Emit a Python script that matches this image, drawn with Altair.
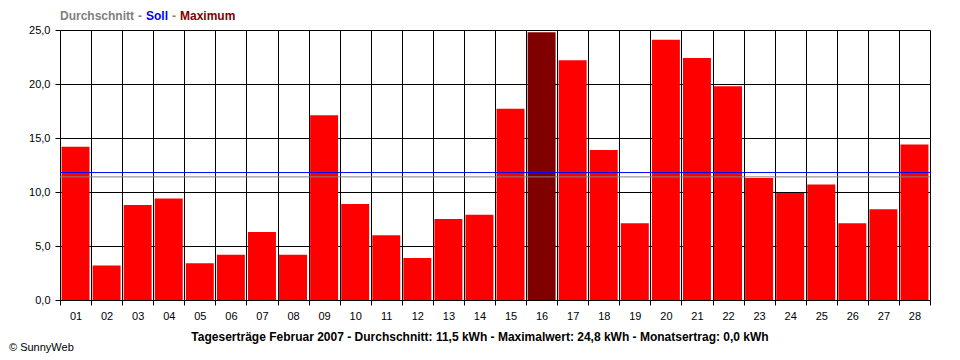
import altair as alt
import pandas as pd

# --- data -------------------------------------------------------------------
tage = [f"{i:02d}" for i in range(1, 29)]
ertrag = [14.2, 3.2, 8.8, 9.4, 3.4, 4.2, 6.3, 4.2, 17.1, 8.9,
          6.0, 3.9, 7.5, 7.9, 17.7, 24.8, 22.2, 13.9, 7.1, 24.1,
          22.4, 19.8, 11.3, 9.9, 10.7, 7.1, 8.4, 14.4]
soll = [11.8]
durchschnitt = [11.4]
y_ticks = [0, 5, 10, 15, 20, 25]
titel = ("Tageserträge Februar 2007 - Durchschnitt: 11,5 kWh - "
         "Maximalwert: 24,8 kWh - Monatsertrag: 0,0 kWh")
legende = ["Durchschnitt", "-", "Soll", "-", "Maximum"]
legende_farben = ["#808080", "#808080", "#0000ff", "#808080", "#800000"]

FONT = "Liberation Sans"

df = pd.DataFrame({"tag": list(range(1, len(tage) + 1)), "label": tage, "ertrag": ertrag})
maximum = max(ertrag)

x_values = [i / 2 for i in range(1, 2 * len(tage) + 2)]  # boundaries + centres

x_axis = alt.Axis(
    values=x_values,
    title=None,
    labelExpr="datum.value % 1 == 0 ? (datum.value < 10 ? '0' + datum.value : '' + datum.value) : ''",
    labelOverlap=False,
    labelFlush=False,
    labelFont=FONT,
    labelFontSize=11,
    labelColor="black",
    labelPadding=5,
    tickSize=5,
    tickColor="black",
    tickOpacity={"condition": {"test": "datum.value % 1 != 0", "value": 1}, "value": 0},
    grid=True,
    gridColor="black",
    gridWidth=1,
    gridOpacity={"condition": {"test": "datum.value % 1 != 0", "value": 1}, "value": 0},
    domainColor="black",
)

y_axis = alt.Axis(
    values=y_ticks,
    title=None,
    labelExpr="replace(format(datum.value, '.1f'), '.', ',')",
    labelFont=FONT,
    labelFontSize=11,
    labelColor="black",
    labelPadding=5,
    tickSize=5,
    tickColor="black",
    grid=True,
    gridColor="black",
    gridWidth=1,
    gridOpacity=1,
    domainColor="black",
)

bars = alt.Chart(df).transform_calculate(
    xa="datum.tag - 0.45", xb="datum.tag + 0.45"
).mark_rect().encode(
    x=alt.X("xa:Q", scale=alt.Scale(domain=[0.5, len(tage) + 0.5], nice=False, zero=False), axis=x_axis),
    x2="xb:Q",
    y=alt.Y("ertrag:Q", scale=alt.Scale(domain=[0, 25], nice=False), axis=y_axis),
    y2=alt.datum(0),
    color=alt.condition(alt.datum.ertrag == maximum, alt.value("#800000"), alt.value("#ff0000")),
)

avg_rule = alt.Chart(pd.DataFrame({"wert": durchschnitt})).mark_rule(
    color="#808080", strokeWidth=1
).encode(y="wert:Q")

soll_rule = alt.Chart(pd.DataFrame({"wert": soll})).mark_rule(
    color="#0000ff", strokeWidth=1
).encode(y="wert:Q")

dummy = pd.DataFrame({"a": [0]})
legend_x = [0, 78, 86, 112, 120]
legend_layers = []
for txt, col, px in zip(legende, legende_farben, legend_x):
    legend_layers.append(
        alt.Chart(dummy).mark_text(
            text=txt, color=col, font=FONT, fontSize=12, fontWeight="bold",
            align="left", baseline="alphabetic"
        ).encode(x=alt.value(px), y=alt.value(-10))
    )

title_txt = alt.Chart(dummy).mark_text(
    text=titel, color="black", font=FONT, fontSize=12, fontWeight="bold",
    align="center", baseline="middle"
).encode(x=alt.value(420), y=alt.value(307))

copyright_txt = alt.Chart(dummy).mark_text(
    text="© SunnyWeb", color="black", font=FONT, fontSize=11,
    align="left", baseline="middle"
).encode(x=alt.value(-51), y=alt.value(318))

chart = alt.layer(bars, avg_rule, soll_rule, *legend_layers, title_txt, copyright_txt).properties(
    width=870,
    height=270,
    autosize="none",
    padding={"left": 52, "top": 22, "right": 22, "bottom": 58},
).configure_view(stroke=None).configure(background="white")

chart.save("out.html", embed_options={"renderer": "svg", "actions": False})
